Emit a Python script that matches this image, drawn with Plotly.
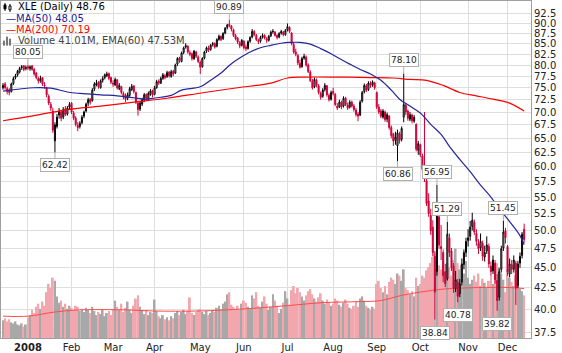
import math
import plotly.graph_objects as go

# ---------------- data ----------------
# bar index 0 = 13 Dec 2007 ... 251 = 11 Dec 2008 (trading days)
opens = [
    75.0, 75.8, 74.8, 74.5, 74.2, 75.9, 77.2, 77.8, 78.4, 79.4, 79.8, 79.2,
    79.6, 79.2, 79.8, 79.0, 78.2, 77.0, 76.4, 77.2, 75.6, 75.0, 73.2, 71.5, 70.2, 64.5, 67.2, 69.4, 70.0, 69.0, 70.6, 69.6, 71.0,
    71.8, 69.8, 68.8, 67.4, 67.2, 67.9, 69.2, 70.2, 71.8, 72.6, 72.3, 74.7, 75.6, 76.2, 75.0, 76.6, 77.2, 77.6, 78.1, 77.2,
    76.0, 75.6, 76.7, 74.8, 75.2, 73.8, 73.4, 72.8, 73.4, 74.6, 75.4, 74.0, 71.8, 70.6, 71.6, 72.4, 73.6, 72.6, 73.6, 74.4,
    73.6, 75.0, 76.4, 76.0, 77.0, 77.6, 77.4, 78.4, 77.4, 78.6, 78.2, 80.2, 81.6, 80.8, 82.9, 84.2, 84.4, 82.8, 82.6, 81.4, 83.0, 81.8,
    80.6, 79.6, 81.6, 83.2, 84.0, 83.6, 84.8, 85.0, 84.4, 86.0, 86.8, 86.2, 87.6, 89.0, 89.8, 89.4, 88.4, 87.0, 86.4, 85.2, 84.6,
    85.6, 84.2, 83.8, 85.6, 86.6, 88.0, 87.0, 85.8, 85.6, 86.6, 87.0, 86.2, 85.8, 86.9, 87.9, 87.8, 87.0, 86.6, 87.6, 87.8, 87.2,
    88.4, 89.0, 87.6, 84.8, 83.0, 82.2, 80.4, 79.6, 81.6, 81.8, 80.0, 78.4, 76.4, 75.2, 76.6, 75.4, 73.8, 73.2, 74.6, 75.4, 73.4, 72.6,
    74.2, 73.6, 71.2, 71.0, 72.0, 71.2, 72.8, 71.4, 71.0, 72.0, 71.2, 70.4, 69.6, 69.4, 72.2, 74.2, 75.4, 74.6, 76.0, 75.6, 76.0,
    74.0, 71.0, 70.2, 69.0, 70.0, 68.6, 69.2, 67.0, 65.8, 64.6, 63.6, 65.8, 64.8, 69.0, 71.4, 70.2, 68.6, 69.4, 68.2, 67.6, 62.8,
    63.8, 61.8, 59.5, 57.6, 54.4, 52.2, 50.5, 46.5, 44.5, 52.0, 47.8, 47.0, 44.5, 43.6, 49.0, 47.2, 45.2, 42.4, 43.2, 41.8, 43.2, 45.4, 47.0,
    48.6, 49.2, 50.6, 51.2, 49.6, 48.2, 47.6, 48.2, 46.4, 47.2, 47.8, 45.2, 44.6, 45.6, 43.4, 41.4, 44.8, 47.6, 50.0,
    47.8, 44.2, 45.4, 44.8, 45.6, 42.8, 45.6, 46.6, 50.2,
]
highs = [
    76.0, 76.2, 75.2, 74.9, 76.1, 77.4, 78.0, 78.9, 79.6, 80.0, 80.0, 79.9,
    80.05, 79.9, 80.0, 79.3, 78.4, 77.4, 77.6, 77.3, 76.2, 75.2, 73.6, 72.0, 70.9, 68.0, 69.6, 70.8, 70.4, 71.0, 71.2, 71.2, 72.0,
    72.0, 70.2, 69.2, 68.0, 68.2, 69.4, 70.3, 71.9, 72.9, 72.8, 74.9, 76.2, 76.7, 76.4, 76.8, 77.5, 78.1, 78.5, 78.3, 77.4,
    76.6, 77.2, 76.9, 76.0, 75.4, 74.2, 73.8, 74.0, 75.2, 75.8, 75.5, 74.2, 72.2, 72.3, 72.9, 73.9, 73.8, 74.2, 74.7, 74.6,
    75.4, 76.7, 76.8, 77.4, 78.2, 78.0, 78.7, 78.6, 78.9, 78.9, 80.3, 81.8, 81.9, 83.1, 84.3, 85.1, 84.6, 83.4, 82.9, 83.5, 83.3, 82.2,
    81.0, 81.8, 83.3, 84.3, 84.5, 84.9, 85.4, 85.3, 86.3, 87.2, 87.0, 87.8, 89.1, 89.9, 90.89, 89.6, 88.7, 87.4, 86.6, 85.6, 86.1,
    85.8, 84.8, 85.8, 86.8, 88.6, 88.3, 87.4, 86.2, 86.9, 87.5, 87.3, 86.6, 87.1, 88.2, 88.6, 88.1, 87.3, 87.8, 88.4, 88.1, 88.6,
    90.0, 89.3, 87.8, 85.4, 83.8, 82.6, 81.2, 81.9, 82.6, 82.2, 80.4, 78.8, 76.9, 77.2, 77.0, 75.8, 74.2, 74.9, 76.0, 75.6, 73.8, 74.4,
    75.0, 73.9, 71.8, 72.5, 72.3, 73.2, 73.1, 71.9, 72.4, 72.3, 71.6, 70.8, 70.0, 72.4, 74.3, 75.9, 75.8, 76.4, 76.4, 76.6, 76.3,
    74.2, 71.6, 70.6, 70.6, 70.3, 69.9, 69.4, 67.4, 66.0, 66.2, 66.6, 66.2, 67.2, 78.10, 71.8, 70.5, 70.0, 69.7, 69.4, 67.8, 64.5,
    64.0, 62.2, 70.0, 57.9, 55.6, 53.2, 51.5, 47.2, 56.95, 53.0, 50.8, 47.4, 45.5, 51.29, 49.6, 47.6, 45.6, 44.6, 43.6, 43.6, 46.2, 47.4, 49.0,
    50.2, 51.4, 52.6, 51.6, 50.2, 48.8, 49.6, 48.6, 47.9, 49.2, 48.2, 45.8, 46.6, 46.0, 44.2, 44.9, 47.9, 51.45, 50.4,
    48.0, 46.2, 46.0, 46.6, 45.9, 45.9, 47.0, 49.8, 51.0,
]
lows = [
    74.6, 74.6, 73.6, 73.4, 74.0, 75.6, 76.8, 77.4, 78.1, 78.9, 78.6, 78.8,
    78.9, 78.7, 78.7, 77.6, 76.8, 75.9, 76.1, 75.4, 74.8, 73.0, 71.4, 70.2, 66.0, 62.42, 66.8, 68.7, 68.2, 68.6, 69.2, 69.3, 70.6,
    69.6, 68.4, 67.2, 66.3, 66.8, 67.6, 68.8, 69.9, 71.2, 71.5, 72.1, 74.3, 75.3, 74.8, 74.8, 76.1, 76.8, 77.3, 76.6, 75.8,
    75.2, 75.4, 74.6, 74.5, 73.6, 72.6, 72.0, 72.4, 73.1, 74.3, 73.8, 71.6, 69.3, 70.2, 71.2, 72.0, 72.3, 72.4, 73.3, 73.0,
    73.4, 74.8, 75.6, 75.8, 76.7, 76.8, 77.1, 77.2, 77.2, 77.5, 78.0, 79.8, 80.5, 80.6, 82.5, 83.8, 82.6, 82.0, 81.0, 81.2, 81.6, 80.4,
    78.0, 79.4, 81.3, 82.8, 83.0, 83.3, 84.3, 83.8, 84.1, 85.7, 85.6, 85.9, 87.3, 88.5, 89.0, 88.0, 86.6, 85.8, 84.9, 83.9, 84.3,
    83.6, 83.2, 83.6, 85.2, 86.3, 86.8, 85.6, 84.9, 85.2, 86.2, 86.0, 85.2, 85.5, 86.6, 87.4, 86.7, 86.0, 86.3, 87.2, 86.8, 86.9,
    88.0, 87.6, 84.6, 82.6, 82.0, 80.0, 79.2, 79.4, 81.2, 79.6, 78.2, 76.2, 74.6, 74.9, 75.1, 73.6, 72.5, 72.9, 74.2, 73.1, 72.1, 72.3,
    73.4, 71.2, 70.4, 70.8, 70.6, 70.9, 71.2, 70.4, 70.7, 70.9, 70.1, 69.1, 68.2, 69.2, 71.9, 73.8, 74.1, 74.3, 75.0, 75.2, 74.6,
    70.6, 69.6, 68.8, 68.7, 68.1, 68.0, 66.6, 65.0, 63.6, 63.8, 60.86, 64.0, 64.4, 68.0, 69.4, 68.3, 68.2, 67.8, 67.9, 62.6, 62.0,
    61.6, 59.0, 57.4, 53.6, 52.0, 49.4, 46.5, 38.84, 44.0, 47.5, 46.0, 43.2, 42.6, 43.4, 46.4, 44.6, 41.9, 42.0, 40.78, 41.4, 42.8, 44.8, 46.4,
    47.8, 48.6, 50.0, 49.4, 47.9, 46.8, 47.2, 45.9, 45.8, 46.8, 45.0, 44.0, 44.2, 43.0, 39.82, 41.0, 44.4, 47.2, 48.2,
    44.0, 43.8, 44.2, 44.4, 40.5, 42.5, 45.0, 46.2, 48.3,
]
closes = [
    75.5, 75.0, 74.2, 74.0, 75.8, 77.0, 77.6, 78.6, 79.2, 79.6, 79.0, 79.4,
    79.3, 79.6, 79.0, 78.0, 77.2, 76.5, 77.0, 75.8, 75.4, 73.5, 71.8, 70.8, 66.5, 67.5, 69.0, 70.2, 68.8, 70.5, 69.5, 70.8, 71.5,
    70.0, 68.8, 67.6, 67.0, 67.8, 69.0, 70.0, 71.6, 72.5, 72.0, 74.5, 75.8, 76.0, 75.2, 76.5, 77.0, 77.8, 78.0, 77.0, 76.2,
    75.8, 76.8, 75.0, 75.5, 74.0, 73.2, 72.6, 73.5, 74.8, 75.3, 74.2, 72.0, 70.5, 71.8, 72.5, 73.5, 72.8, 73.8, 74.3, 73.5,
    75.0, 76.3, 76.0, 77.0, 77.8, 77.2, 78.3, 77.6, 78.5, 78.0, 80.0, 81.5, 81.0, 82.8, 84.0, 84.5, 83.0, 82.5, 81.5, 83.2, 82.0, 80.8,
    79.5, 81.5, 83.0, 84.0, 83.5, 84.6, 85.0, 84.2, 86.0, 86.8, 86.0, 87.5, 88.8, 89.6, 89.5, 88.6, 87.0, 86.2, 85.4, 84.5, 85.8,
    84.0, 83.8, 85.5, 86.5, 88.0, 87.2, 86.0, 85.5, 86.5, 87.0, 86.4, 85.8, 86.8, 87.8, 88.0, 87.0, 86.5, 87.5, 88.0, 87.2, 88.2,
    89.2, 88.0, 85.0, 83.0, 82.5, 80.5, 79.5, 81.5, 82.0, 80.0, 78.5, 76.5, 75.0, 76.8, 75.5, 74.0, 73.0, 74.5, 75.5, 73.5, 72.5, 74.0,
    73.8, 71.5, 70.8, 72.0, 71.0, 72.8, 71.5, 70.8, 72.0, 71.2, 70.5, 69.5, 69.2, 72.0, 74.0, 75.5, 74.5, 76.0, 75.5, 76.2, 75.0,
    71.0, 70.0, 69.2, 70.2, 68.5, 69.5, 67.0, 65.5, 64.5, 65.2, 66.0, 64.6, 66.8, 71.5, 70.0, 68.8, 69.5, 68.3, 69.0, 63.0, 64.0,
    62.0, 59.5, 58.0, 54.0, 52.5, 50.0, 47.0, 42.0, 52.5, 48.0, 47.5, 44.0, 43.0, 49.5, 47.0, 45.0, 42.5, 43.5, 41.5, 43.0, 45.5, 47.0, 48.5,
    49.0, 50.5, 51.5, 49.8, 48.5, 47.5, 48.5, 46.5, 47.0, 48.0, 45.5, 44.5, 46.0, 43.5, 41.0, 44.5, 47.5, 49.8, 49.0,
    44.5, 45.5, 44.8, 46.0, 42.5, 45.5, 46.5, 49.5, 48.76,
]
volume_m = [
    17, 19, 16, 18, 15, 14, 16, 13, 12, 14, 11, 13,
    20, 22, 27, 24, 30, 33, 28, 35, 31, 44, 52, 48, 58, 55, 40, 34, 36, 30, 33, 28, 31,
    29, 27, 31, 30, 26, 28, 25, 29, 27, 24, 30, 26, 22, 25, 23, 27, 21, 24, 26, 22,
    28, 36, 30, 27, 33, 25, 29, 35, 27, 24, 31, 38, 41, 30, 26, 23, 27, 22, 25, 24,
    37, 26, 21, 19, 22, 18, 20, 17, 21, 19, 24, 26, 22, 25, 27, 23, 26, 39, 24, 22, 25, 27,
    28, 25, 23, 26, 22, 24, 27, 25, 29, 31, 28, 33, 35, 42, 44, 32, 30, 28, 31, 27, 33,
    36, 34, 30, 28, 41, 38, 44, 31, 29, 35, 40, 33, 27, 30, 42, 36, 31, 24, 28, 34, 45,
    38, 32, 46, 50, 43, 48, 44, 40, 36, 41, 45, 47, 42, 38, 35, 39, 43, 36, 33, 37, 34, 31,
    33, 38, 36, 32, 30, 34, 37, 33, 29, 28, 31, 35, 30, 38, 40, 36, 31, 29, 27, 30, 28,
    52, 55, 48, 44, 50, 42, 54, 58, 56, 52, 62, 60, 55, 66, 48, 46, 42, 45, 40, 58, 50,
    52, 60, 58, 65, 68, 72, 78, 82, 76, 70, 66, 74, 64, 72, 68, 60, 75, 86, 72, 66, 70, 62, 74,
    58, 52, 56, 60, 54, 62, 50, 57, 53, 48, 55, 60, 52, 64, 72, 68, 62, 56, 44,
    66, 58, 54, 50, 60, 52, 47, 45, 41.01,
]
ma50_idx = [0, 15, 23, 31, 37, 47, 55, 63, 68, 71, 76, 81, 86, 95, 100, 105, 110, 114, 119, 124, 129, 134, 138,
            143, 148, 153, 158, 162, 167, 172, 177, 182, 187, 191, 196, 201, 206, 211, 215, 220, 225, 230, 235,
            239, 244, 249, 251]
ma50_val = [74.3, 75.0, 74.9, 74.1, 73.8, 73.5, 73.3, 72.9, 72.6, 72.7, 73.0, 73.4, 74.5, 75.2, 76.6, 78.2, 80.3,
            81.6, 83.0, 84.0, 84.6, 85.1, 85.3, 85.3, 84.9, 83.8, 82.6, 81.5, 80.2, 79.0, 78.0, 76.6, 74.5, 72.6,
            71.2, 69.8, 67.6, 65.7, 63.5, 61.2, 59.1, 56.9, 55.0, 53.2, 51.3, 49.3, 48.05]
ma200_idx = [0, 15, 31, 47, 63, 79, 97, 113, 129, 137, 145, 161, 177, 188, 196, 204, 212, 220, 228, 236, 244, 251]
ma200_val = [68.3, 69.3, 70.5, 71.2, 72.0, 72.8, 74.0, 75.0, 76.0, 77.1, 77.3, 77.3, 77.2, 77.1, 76.8, 76.6, 75.5,
             74.0, 73.3, 72.6, 71.8, 70.19]
ema_idx = [0, 12, 25, 37, 60, 72, 95, 116, 130, 142, 154, 172, 182, 192, 204, 212, 229, 244, 251]
ema_val = [21, 21, 25, 27, 27, 26, 26, 28, 30, 32, 34, 35, 36, 41, 45, 47, 48.5, 48.5, 47.53]

month_idx = [12, 33, 53, 73, 95, 116, 137, 159, 180, 201, 224, 243]
month_lbl = ["<b>2008</b>", "Feb", "Mar", "Apr", "May", "Jun", "Jul", "Aug", "Sep", "Oct", "Nov", "Dec"]
price_ticks = [37.5, 40.0, 42.5, 45.0, 47.5, 50.0, 52.5, 55.0, 57.5, 60.0, 62.5, 65.0, 67.5, 70.0,
               72.5, 75.0, 77.5, 80.0, 82.5, 85.0, 87.5, 90.0, 92.5]
hi_idx = [12, 109, 193, 209, 214, 241]
hi_val = [80.05, 90.89, 78.10, 56.95, 51.29, 51.45]
lo_idx = [25, 190, 208, 219, 238]
lo_val = [62.42, 60.86, 38.84, 40.78, 39.82]

# ---------------- figure ----------------
FONT = "DejaVu Sans"
RED = "#d0003a"
n = len(closes)
idx = list(range(n))
prev = [opens[0]] + closes[:-1]
is_up = [closes[i] >= prev[i] for i in idx]

fig = go.Figure()

# volume (base axis, hidden)
fig.add_trace(go.Bar(x=idx, y=volume_m, yaxis="y",
                     marker=dict(color=["#a8a8a8" if u else "#f2a6ad" for u in is_up], line=dict(width=0)),
                     hoverinfo="skip"))
fig.add_trace(go.Scatter(x=ema_idx, y=ema_val, yaxis="y", mode="lines", line_shape="spline",
                         line=dict(color="#ff4a4a", width=1), hoverinfo="skip"))


def candles(sel, color):
    xs = [i for i in idx if sel(i)]
    return go.Candlestick(
        x=xs, open=[opens[i] for i in xs], high=[highs[i] for i in xs],
        low=[lows[i] for i in xs], close=[closes[i] for i in xs], yaxis="y2",
        increasing=dict(line=dict(color=color, width=1), fillcolor="white"),
        decreasing=dict(line=dict(color=color, width=1), fillcolor=color),
        whiskerwidth=0, hoverinfo="skip")


fig.add_trace(candles(lambda i: is_up[i], "#000000"))
fig.add_trace(candles(lambda i: not is_up[i], RED))
fig.add_trace(go.Scatter(x=ma200_idx, y=ma200_val, yaxis="y2", mode="lines", line_shape="spline",
                         line=dict(color="#ff0000", width=1.2), hoverinfo="skip"))
fig.add_trace(go.Scatter(x=ma50_idx, y=ma50_val, yaxis="y2", mode="lines", line_shape="spline",
                         line=dict(color="#25259a", width=1.2), hoverinfo="skip"))

W, H = 562, 353
ML, MR, MT, MB = 0, 31, 0, 13
PW, PH = W - ML - MR, H - MT - MB


def px(x):
    return x / PW


def py(y):
    return 1 - y / PH


annotations = []
legend_lines = [
    ("XLE (Daily) 48.76", "#000000", 15, 6),
    ("\u2014MA(50) 48.05", "#1c1c96", 3, 18),
    ("\u2014MA(200) 70.19", "#ff0000", 3, 29),
    ("Volume 41.01M, EMA(60) 47.53M", "#444444", 15, 40),
]
for txt, col, x0, y0 in legend_lines:
    annotations.append(dict(text=txt, xref="paper", yref="paper", x=px(x0), y=py(y0),
                            xanchor="left", yanchor="middle", showarrow=False,
                            font=dict(family=FONT, size=10, color=col)))

lab_style = dict(showarrow=True, arrowhead=0, arrowwidth=1, arrowcolor="#b0b0b0", ax=0, standoff=0,
                 bgcolor="white", bordercolor="#b0b0b0", borderwidth=1, borderpad=1,
                 font=dict(family=FONT, size=9, color="#222222"), xref="x", yref="y2")
for i, v in zip(hi_idx, hi_val):
    annotations.append(dict(x=i, y=math.log10(v), text=f"{v:.2f}", ay=-13, **lab_style))
for i, v in zip(lo_idx, lo_val):
    annotations.append(dict(x=i, y=math.log10(v), text=f"{v:.2f}", ay=13, **lab_style))

shapes = []
# candle icon
shapes.append(dict(type="line", xref="paper", yref="paper", x0=px(4), x1=px(4), y0=py(2), y1=py(10),
                   line=dict(color="black", width=1)))
shapes.append(dict(type="rect", xref="paper", yref="paper", x0=px(3), x1=px(5), y0=py(4), y1=py(8),
                   line=dict(color="black", width=1), fillcolor="black"))
shapes.append(dict(type="line", xref="paper", yref="paper", x0=px(9), x1=px(9), y0=py(3), y1=py(11),
                   line=dict(color="black", width=1)))
shapes.append(dict(type="rect", xref="paper", yref="paper", x0=px(8), x1=px(10), y0=py(5), y1=py(9),
                   line=dict(color="black", width=1), fillcolor="white"))
# volume icon
for a, top in ((2, 40), (5, 36), (8, 38)):
    shapes.append(dict(type="rect", xref="paper", yref="paper", x0=px(a), x1=px(a + 2), y0=py(45), y1=py(top),
                       line=dict(width=0), fillcolor="#777777"))

fig.update_layout(
    width=W, height=H, margin=dict(l=ML, r=MR, t=MT, b=MB),
    paper_bgcolor="white", plot_bgcolor="white", showlegend=False, bargap=0.12,
    xaxis=dict(range=[-0.98, 254.3], tickvals=month_idx, ticktext=month_lbl, showgrid=True,
               gridcolor="#dedede", gridwidth=1, zeroline=False, rangeslider=dict(visible=False),
               showline=True, linecolor="#a0a0a0", mirror=True, ticks="",
               tickfont=dict(family=FONT, size=10, color="#222222")),
    yaxis=dict(range=[0, 324], visible=False, fixedrange=True),
    yaxis2=dict(type="log", overlaying="y", side="right",
                range=[math.log10(36.87), math.log10(95.93)],
                tickvals=price_ticks, ticktext=[f"{v:.1f}" for v in price_ticks],
                showgrid=True, gridcolor="#dedede", gridwidth=1, zeroline=False,
                showline=True, linecolor="#a0a0a0", mirror=True, ticks="",
                tickfont=dict(family=FONT, size=10, color="#222222")),
    annotations=annotations, shapes=shapes,
)

fig.write_html("out.html")
